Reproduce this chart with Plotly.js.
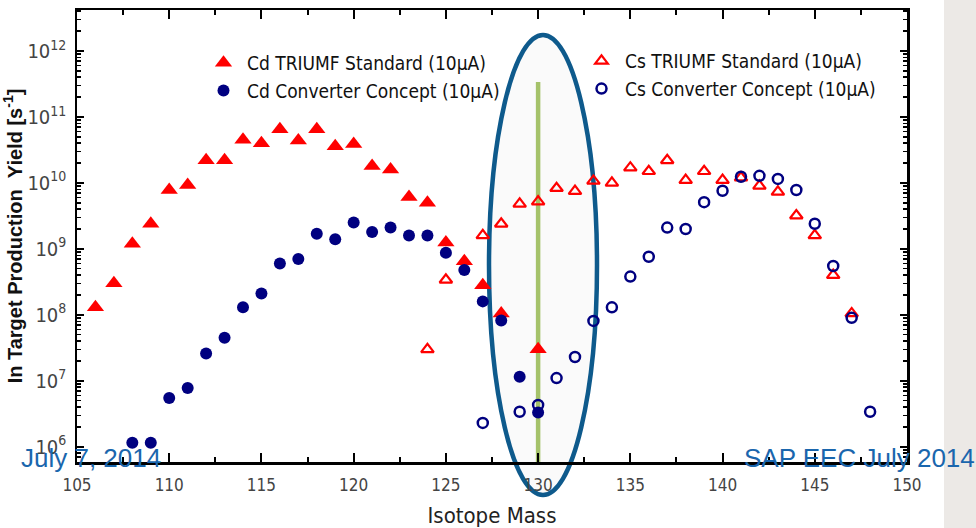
<!DOCTYPE html>
<html>
<head>
<meta charset="utf-8">
<script src="https://cdn.plot.ly/plotly-3.0.1.min.js"></script>
<style>
  html, body { margin: 0; padding: 0; background: #ffffff; }
  #chart { width: 976px; height: 528px; }
</style>
</head>
<body>
<div id="chart"></div>
<script>
// ---- data ----
const cdStdMass = [106,107,108,109,110,111,112,113,114,115,116,117,118,119,120,121,122,123,124,125,126,127,128,130];
const cdStdYield = [1.3e8,3.0e8,1.2e9,2.4e9,7.8e9,9.3e9,2.2e10,2.2e10,4.5e10,4.0e10,6.5e10,4.4e10,6.5e10,3.6e10,3.9e10,1.8e10,1.6e10,6.1e9,5.0e9,1.25e9,6.5e8,2.8e8,1.05e8,3.0e7];

const cdConvMass = [108,109,110,111,112,113,114,115,116,117,118,119,120,121,122,123,124,125,126,127,128,129,130];
const cdConvYield = [1.15e6,1.15e6,5.5e6,7.8e6,2.6e7,4.5e7,1.3e8,2.1e8,6.0e8,7.0e8,1.7e9,1.4e9,2.5e9,1.8e9,2.1e9,1.6e9,1.6e9,8.7e8,4.8e8,1.6e8,8.2e7,1.15e7,3.3e6];

const csStdMass = [124,125,127,128,129,130,131,132,133,134,135,136,137,138,139,140,141,142,143,144,145,146,147];
const csStdYield = [3.0e7,3.4e8,1.6e9,2.4e9,4.8e9,5.2e9,8.3e9,7.5e9,1.07e10,1.0e10,1.7e10,1.5e10,2.2e10,1.1e10,1.5e10,1.1e10,1.2e10,9.0e9,7.3e9,3.2e9,1.6e9,4.0e8,1.05e8];

const csConvMass = [127,129,130,131,132,133,134,135,136,137,138,139,140,141,142,143,144,145,146,147,148];
const csConvYield = [2.3e6,3.4e6,4.3e6,1.1e7,2.3e7,8.1e7,1.3e8,3.8e8,7.6e8,2.1e9,2.0e9,5.1e9,7.6e9,1.24e10,1.28e10,1.15e10,7.8e9,2.4e9,5.5e8,9.0e7,3.4e6];

const seriesNames = [
  "Cd TRIUMF Standard (10\u03bcA)",
  "Cd Converter Concept (10\u03bcA)",
  "Cs TRIUMF Standard (10\u03bcA)",
  "Cs Converter Concept (10\u03bcA)"
];
const xTitle = "Isotope Mass";
const yTitle = "In Target Production\u00a0\u00a0Yield [s<sup>-1</sup>]";
const footLeft = "July 7, 2014";
const footRight = "SAP EEC July 2014";
const highlightMass = 130;

const RED = "#ff0000";
const NAVY = "#000080";
const NARROW = "'Liberation Sans Narrow', 'Arial Narrow', 'DejaVu Sans Condensed', sans-serif";

const traces = [
  { x: csStdMass, y: csStdYield, name: seriesNames[2], type: "scatter", mode: "markers", legend: "legend2",
    marker: { symbol: "triangle-up-open", size: 11, color: RED, line: { width: 2.2, color: RED } } },
  { x: csConvMass, y: csConvYield, name: seriesNames[3], type: "scatter", mode: "markers", legend: "legend2",
    marker: { symbol: "circle-open", size: 10, color: NAVY, line: { width: 2.5, color: NAVY } } },
  { x: cdStdMass, y: cdStdYield, name: seriesNames[0], type: "scatter", mode: "markers", legend: "legend",
    marker: { symbol: "triangle-up", size: 15, color: RED } },
  { x: cdConvMass, y: cdConvYield, name: seriesNames[1], type: "scatter", mode: "markers", legend: "legend",
    marker: { symbol: "circle", size: 12, color: NAVY } }
];

const L = 77, R = 907, T = 10, B = 462;
const px2x = p => (p - L) / (R - L);
const px2y = p => (B - p) / (B - T);

const layout = {
  width: 976, height: 528,
  margin: { l: L, r: 976 - R, t: T, b: 528 - B },
  paper_bgcolor: "#ffffff",
  plot_bgcolor: "rgba(0,0,0,0)",
  font: { family: NARROW, color: "#333333" },
  showlegend: true,
  legend: {
    x: px2x(200), y: px2y(44), xanchor: "left", yanchor: "top",
    bgcolor: "rgba(0,0,0,0)", borderwidth: 0,
    font: { family: NARROW, size: 19, color: "#111111" },
    traceorder: "normal", itemwidth: 37, tracegroupgap: 0
  },
  legend2: {
    x: px2x(578), y: px2y(42), xanchor: "left", yanchor: "top",
    bgcolor: "rgba(0,0,0,0)", borderwidth: 0,
    font: { family: NARROW, size: 19, color: "#111111" },
    traceorder: "normal", itemwidth: 37, tracegroupgap: 0
  },
  xaxis: {
    range: [105, 150], dtick: 5, tick0: 105,
    ticks: "inside", ticklen: 9, tickwidth: 2, tickcolor: "#000",
    minor: { dtick: 2.5, ticks: "inside", ticklen: 5, tickwidth: 2, tickcolor: "#000" },
    showline: true, linewidth: 2.5, linecolor: "#000", mirror: "allticks",
    showgrid: false, zeroline: false,
    tickfont: { family: NARROW, size: 17, color: "#444" },
    ticklabelstandoff: 6,
    title: { text: xTitle, font: { family: NARROW, size: 22, color: "#222" }, standoff: 17 }
  },
  yaxis: {
    type: "log", range: [5.77, 12.62], dtick: 1, exponentformat: "power",
    ticks: "inside", ticklen: 7, tickwidth: 2, tickcolor: "#000",
    minor: { dtick: "D1", ticks: "inside", ticklen: 4, tickwidth: 1.5, tickcolor: "#000" },
    showline: true, linewidth: 2.5, linecolor: "#000", mirror: "allticks",
    showgrid: false, zeroline: false,
    tickfont: { family: NARROW, size: 16, color: "#444" },
    ticklabelstandoff: 5,
    title: { text: yTitle, font: { family: "'Liberation Sans', Arial, sans-serif", size: 20, weight: "bold", color: "#111" }, standoff: 0 }
  },
  shapes: [
    { type: "rect", xref: "paper", yref: "paper", layer: "below",
      x0: px2x(944), x1: px2x(980), y0: px2y(-5), y1: px2y(535),
      fillcolor: "#ece9e6", line: { width: 0 } },
    { type: "circle", xref: "paper", yref: "paper", layer: "below",
      x0: px2x(489), x1: px2x(597), y0: px2y(495), y1: px2y(35),
      fillcolor: "rgba(238,238,238,0.3)", line: { color: "#0e5a8c", width: 4.5 } },
    { type: "line", xref: "x", yref: "paper", layer: "below",
      x0: highlightMass, x1: highlightMass, y0: 0, y1: px2y(82),
      line: { color: "#a5c26a", width: 4.5 } }
  ],
  annotations: [
    { text: footLeft, xref: "paper", yref: "paper", x: px2x(19), y: px2y(458),
      xanchor: "left", yanchor: "middle", showarrow: false,
      font: { family: "'Liberation Sans', Arial, sans-serif", size: 26, color: "#1a66ad" } },
    { text: footRight, xref: "paper", yref: "paper", x: px2x(977), y: px2y(458),
      xanchor: "right", yanchor: "middle", showarrow: false,
      font: { family: "'Liberation Sans', Arial, sans-serif", size: 26, color: "#1a66ad" } }
  ]
};

Plotly.newPlot("chart", traces, layout, { displayModeBar: false, staticPlot: true });
</script>
</body>
</html>
